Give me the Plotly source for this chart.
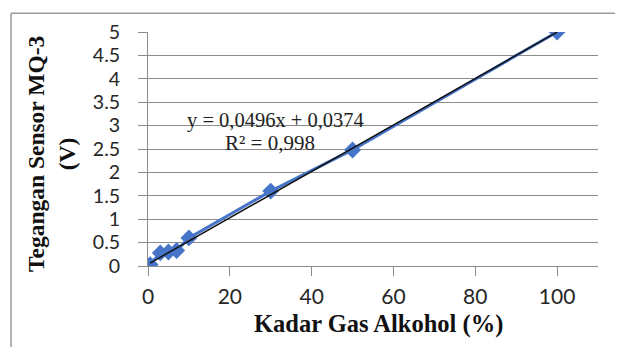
import plotly.graph_objects as go

# Data
kadar_alkohol = [0.5, 3, 5, 7, 10, 30, 50, 100]          # %
tegangan = [0.03, 0.28, 0.30, 0.33, 0.60, 1.60, 2.48, 5.00]  # V

# Linear trendline shown on the chart
slope = 0.0496
intercept = 0.0374
r_squared = "0,998"
eq_text = "y = 0,0496x + 0,0374"

x_ticks = [0, 20, 40, 60, 80, 100]
y_ticks = [0, 0.5, 1, 1.5, 2, 2.5, 3, 3.5, 4, 4.5, 5]
y_tick_text = ["0", "0.5", "1", "1.5", "2", "2.5", "3", "3.5", "4", "4.5", "5"]

x_title = "Kadar Gas Alkohol (%)"
y_title = "Tegangan Sensor MQ-3<br>(V)"

trend_x = [min(kadar_alkohol), max(kadar_alkohol)]
trend_y = [slope * v + intercept for v in trend_x]

blue = "#4574C8"
grid = "#8c8c8c"
x_tick_font = dict(family="Lato, Open Sans, sans-serif", size=21, color="#262626")
y_tick_font = dict(family="Lato, Open Sans, sans-serif", size=19.5, color="#262626")
serif = "Liberation Serif, Times New Roman, serif"

fig = go.Figure()
fig.add_trace(go.Scatter(
    x=kadar_alkohol, y=tegangan, mode="lines+markers",
    line=dict(color=blue, width=3),
    marker=dict(symbol="diamond", size=13, color=blue),
    showlegend=False,
))
fig.add_trace(go.Scatter(
    x=trend_x, y=trend_y, mode="lines",
    line=dict(color="#111111", width=1.5),
    showlegend=False,
))

fig.update_layout(
    width=623, height=347,
    margin=dict(l=140, r=33, t=20, b=89),
    paper_bgcolor="white", plot_bgcolor="white",
    xaxis=dict(
        range=[0, 110], tickvals=x_ticks, ticks="outside", ticklen=9,
        tickcolor=grid, showgrid=False, showline=True, linecolor=grid,
        linewidth=1, zeroline=False, tickfont=x_tick_font, ticklabelstandoff=3,
        fixedrange=True,
    ),
    yaxis=dict(
        range=[0, 5], tickvals=y_ticks, ticktext=y_tick_text, ticks="outside",
        ticklen=9, tickcolor=grid, showgrid=True, gridcolor=grid, gridwidth=1,
        showline=True, linecolor=grid, linewidth=1, zeroline=False,
        tickfont=y_tick_font, ticklabelstandoff=14, fixedrange=True,
    ),
    annotations=[
        dict(text=eq_text, x=31.2, y=3.11, xref="x", yref="y", showarrow=False,
             font=dict(family=serif, size=20.5, color="#222222")),
        dict(text="R² = " + r_squared, x=29.8, y=2.63, xref="x", yref="y",
             showarrow=False, font=dict(family=serif, size=21, color="#222222")),
        dict(text="<b>" + x_title + "</b>", x=0.513, y=-0.248, xref="paper",
             yref="paper", showarrow=False, yanchor="middle",
             font=dict(family=serif, size=24.5, color="#111111")),
        dict(text="<b>" + y_title + "</b>", x=-0.213, y=0.479, xref="paper",
             yref="paper", showarrow=False, textangle=-90, xanchor="center",
             yanchor="middle", font=dict(family=serif, size=23.5, color="#111111")),
    ],
    shapes=[
        dict(type="line", xref="paper", yref="paper", x0=-0.3044, x1=1.1,
             y0=1.0798, y1=1.0798, line=dict(color="#9a9a9a", width=1.5)),
        dict(type="line", xref="paper", yref="paper", x0=-0.3044, x1=-0.3044,
             y0=1.0798, y1=-0.4, line=dict(color="#9a9a9a", width=1.5)),
    ],
)

fig.write_html("out.html")
